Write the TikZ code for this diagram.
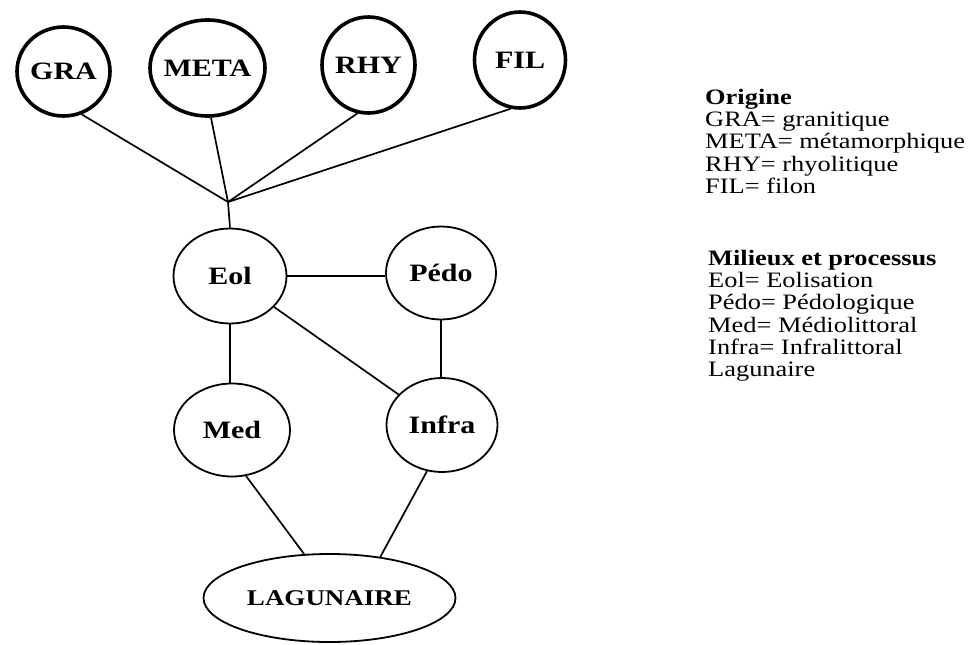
\documentclass[tikz,border=0pt]{standalone}
\usepackage{fontspec}
\setmainfont{Liberation Serif}[FakeStretch=1.2]
\usetikzlibrary{shapes.geometric}
\begin{document}
\begin{tikzpicture}[x=1pt,y=-1pt,
  src/.style={ellipse, draw, line width=3.6pt, inner sep=-8pt, font=\fontsize{25}{25}\selectfont\bfseries},
  env/.style={ellipse, draw, line width=1.8pt, inner sep=-8pt, font=\fontsize{25}{25}\selectfont\bfseries},
  link/.style={line width=1.7pt},
  legend/.style={anchor=north west, align=left, inner sep=0pt, font=\fontsize{22}{22.2}\selectfont}]
\useasboundingbox (0,0) rectangle (977,645);
% source circles
\node[src, minimum width=93pt, minimum height=89pt] (gra) at (63.5,71.5) {GRA};
\node[src, minimum width=115pt, minimum height=96pt] (meta) at (207.5,68) {META};
\node[src, minimum width=93pt, minimum height=96pt] (rhy) at (368.5,65) {RHY};
\node[src, minimum width=91pt, minimum height=96pt] (fil) at (520,60) {FIL};
\coordinate (junc) at (228,202);
% environments
\node[env, minimum width=113pt, minimum height=95pt] (eol) at (230,276) {Eol};
\node[env, minimum width=110pt, minimum height=93pt] (pedo) at (441,273) {Pédo};
\node[env, minimum width=116pt, minimum height=93pt] (med) at (232,430) {Med};
\node[env, minimum width=111pt, minimum height=94pt] (infra) at (442,425) {Infra};
\node[env, minimum width=252pt, minimum height=88pt, font=\fontsize{22.5}{22.5}\selectfont\bfseries] (lag) at (329.5,598) {LAGUNAIRE};
% connectors
\draw[link] (gra.-67) -- (junc);
\draw[link] (meta.-86) -- (junc);
\draw[link] (rhy.-103) -- (junc);
\draw[link] (fil.-101) -- (junc);
\draw[link] (junc) -- (eol.north);
\draw[link] (eol.east) -- (eol.east -| pedo.west);
\draw[link] (eol) -- (infra);
\draw[link] (pedo.south) -- (pedo.south |- infra.north);
\draw[link] (eol.south) -- (eol.south |- med.north);
\draw[link] (med.-73) -- (lag.120);
\draw[link] (infra.-108) -- (lag.39);
% legend
\node[legend] (leg1) at (705,89) {\textbf{Origine}\\GRA= granitique\\META= métamorphique\\RHY= rhyolitique\\FIL= filon};
\node[legend] (leg2) at (708,250) {\textbf{Milieux et processus}\\Eol= Eolisation\\Pédo= Pédologique\\Med= Médiolittoral\\Infra= Infralittoral\\Lagunaire};
\end{tikzpicture}
\end{document}
